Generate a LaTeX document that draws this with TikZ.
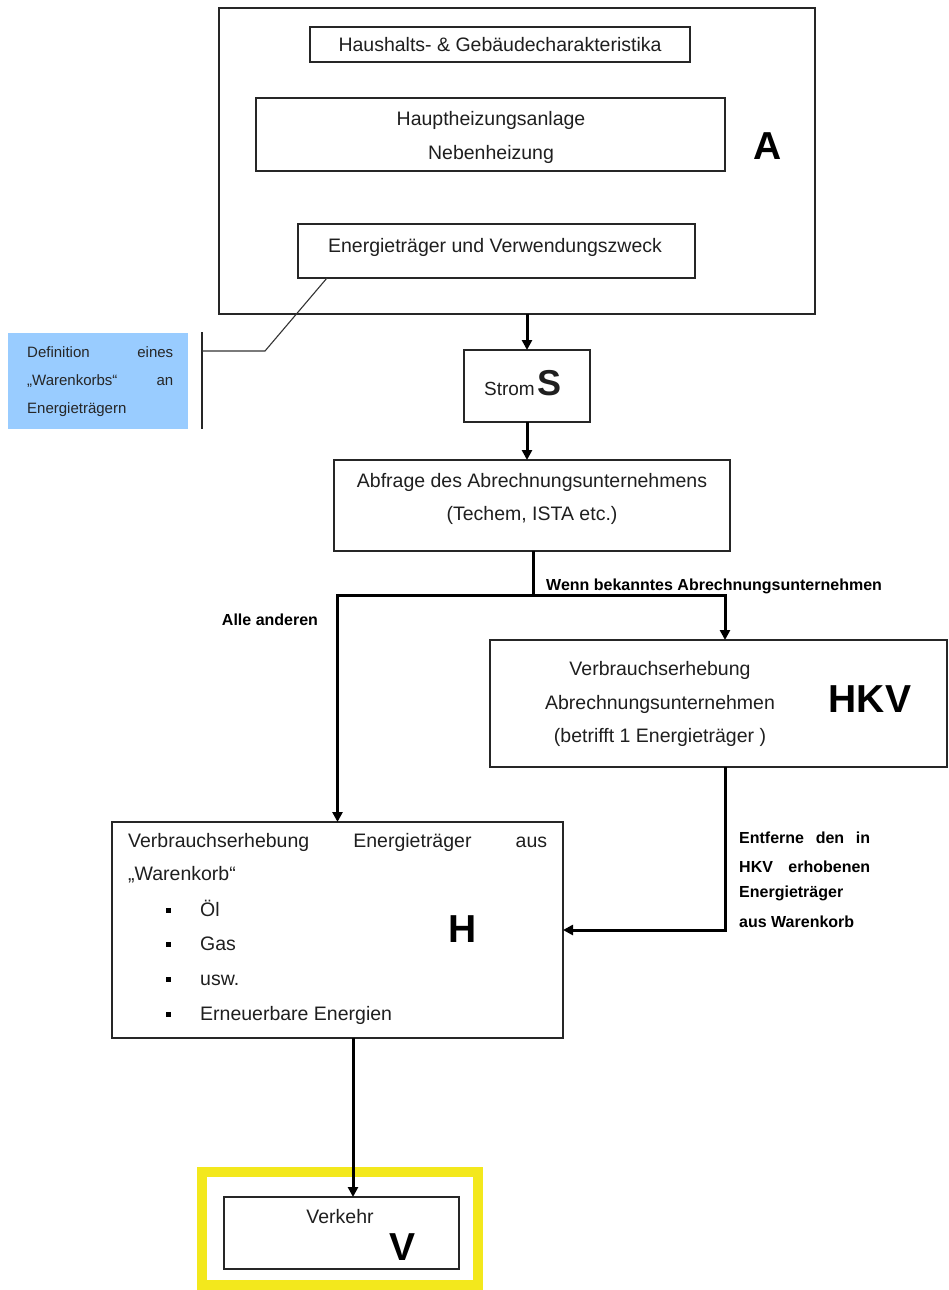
\documentclass[tikz,border=0pt]{standalone}
\usepackage{fontspec}
\setmainfont{Liberation Sans}
\usetikzlibrary{arrows.meta,calc}
\definecolor{lightblue}{RGB}{153,204,255}
\definecolor{frameyellow}{RGB}{243,232,28}
\begin{document}
\begin{tikzpicture}[x=1pt,y=-1pt,
  box/.style={draw=black!85, line width=1.5pt, inner sep=0pt, outer sep=0pt},
  conn/.style={draw=black, line width=3pt, -{Triangle[length=10pt,width=10pt]}},
  plainline/.style={draw=black, line width=3pt},
  thinline/.style={draw=black!80, line width=1.1pt},
  txt/.style={font=\fontsize{19.5}{23}\selectfont, inner sep=0pt, text=black!88},
  smalltxt/.style={font=\fontsize{15}{18}\selectfont, inner sep=0pt, text=black!85},
  lbl/.style={font=\fontsize{16}{19}\selectfont\bfseries, inner sep=0pt},
  big/.style={font=\fontsize{39}{44}\selectfont\bfseries, inner sep=0pt},
  bullet/.style={fill=black, minimum size=5pt, inner sep=0pt}]
\useasboundingbox (0,0) rectangle (949,1290);
\fill[white] (0,0) rectangle (949,1290);

% ---------- boxes ----------
\node[box, minimum width=596pt, minimum height=306pt] (A) at (517,161) {};
\node[box, minimum width=380pt, minimum height=35pt] (HH) at (500,44.5) {};
\node[box, minimum width=469pt, minimum height=73pt] (HP) at (490.5,134.5) {};
\node[box, minimum width=397pt, minimum height=54pt] (ET) at (496.5,251) {};
\node[fill=lightblue, minimum width=180pt, minimum height=96pt, inner sep=0pt] (D) at (98,381) {};
\node[box, minimum width=126pt, minimum height=72pt] (S) at (527,386) {};
\node[box, minimum width=396pt, minimum height=91pt] (Q) at (532,505.5) {};
\node[box, minimum width=457pt, minimum height=127pt] (HKV) at (718.5,703.5) {};
\node[box, minimum width=451pt, minimum height=216pt] (H) at (337.5,930) {};
\node[draw=frameyellow, line width=10pt, minimum width=276pt, minimum height=113pt, inner sep=0pt] (Y) at (340,1228.5) {};
\node[box, minimum width=235pt, minimum height=72pt] (V) at (341.5,1233) {};

% ---------- texts ----------
\node[txt, anchor=base] (hhT) at (500,52) {Haushalts- \& Gebäudecharakteristika};
\node[txt, anchor=base] (hpT1) at (491,125) {Hauptheizungsanlage};
\node[txt, anchor=base] (hpT2) at (491,159) {Nebenheizung};
\node[big, anchor=base] (Aletter) at (768,159) {A};
\node[txt, anchor=base] (etT) at (495,252) {Energieträger und Verwendungszweck};

\node[smalltxt, anchor=base west] (d1) at (27,357) {\makebox[146pt][s]{Definition eines}};
\node[smalltxt, anchor=base west] (d2) at (27,385) {\makebox[146pt][s]{„Warenkorbs“ an}};
\node[smalltxt, anchor=base west] (d3) at (27,413) {Energieträgern};

\node[anchor=base, inner sep=0pt, text=black!88] (sT) at (523,395) {\fontsize{19}{22}\selectfont Strom\,{\fontsize{36}{40}\selectfont\bfseries S}};

\node[txt, anchor=base] (q1) at (532,487) {Abfrage des Abrechnungsunternehmens};
\node[txt, anchor=base] (q2) at (532,520) {(Techem, ISTA etc.)};

\node[lbl, anchor=base west] (wenn) at (546,590) {Wenn bekanntes Abrechnungsunternehmen};
\node[lbl, anchor=base] (alle) at (270,625) {Alle anderen};

\node[txt, anchor=base] (k1) at (660,675) {Verbrauchserhebung};
\node[txt, anchor=base] (k2) at (660,709) {Abrechnungsunternehmen};
\node[txt, anchor=base] (k3) at (660,742) {(betrifft 1 Energieträger )};
\node[big, anchor=base] (hkvL) at (870,712) {HKV};

\node[txt, anchor=base west] (h1) at (128,847) {\makebox[419pt][s]{Verbrauchserhebung Energieträger aus}};
\node[txt, anchor=base west] (h2) at (128,880) {„Warenkorb“};
\node[bullet] (b1) at (168,910) {};
\node[bullet] (b2) at (168,944) {};
\node[bullet] (b3) at (168,979) {};
\node[bullet] (b4) at (168,1014) {};
\node[txt, anchor=base west] (i1) at (200,916) {Öl};
\node[txt, anchor=base west] (i2) at (200,950) {Gas};
\node[txt, anchor=base west] (i3) at (200,985) {usw.};
\node[txt, anchor=base west] (i4) at (200,1020) {Erneuerbare Energien};
\node[big, anchor=base] (Hl) at (463,942) {H};

\node[lbl, anchor=base west] (r1) at (739,843) {\makebox[131pt][s]{Entferne den in}};
\node[lbl, anchor=base west] (r2) at (739,872) {\makebox[131pt][s]{HKV erhobenen}};
\node[lbl, anchor=base west] (r3) at (739,897) {Energieträger};
\node[lbl, anchor=base west] (r4) at (739,927) {aus Warenkorb};

\node[txt, anchor=base] (vT) at (340,1223) {Verkehr};
\node[big, anchor=base] (vL) at (403,1260) {V};

% ---------- connectors ----------
\coordinate (b1top) at (202,332);
\coordinate (b1bot) at (202,429);
\coordinate (brk) at (202,351);
\coordinate (knee) at (265,351);
\draw[draw=black!85, line width=1.5pt] (b1top) -- (b1bot);
\draw[thinline] (brk) -- (knee) -- ($(ET.south west)+(29,0)$);

\draw[conn] (S.north |- A.south) -- (S.north);
\draw[conn] (S.south) -- (S.south |- Q.north);
\coordinate (split) at ($(Q.south)+(1,44)$);
\coordinate (hkvin) at ($(HKV.north)+(6.5,0)$);
\draw[plainline] (split |- Q.south) -- (split);
\draw[conn] (split) -| (H.north);
\draw[conn] (split) -| (hkvin);
\draw[conn] (hkvin |- HKV.south) |- (H.east);
\coordinate (hvx) at (353,0);
\draw[conn] (H.south -| hvx) -- (V.north -| hvx);
\end{tikzpicture}
\end{document}
